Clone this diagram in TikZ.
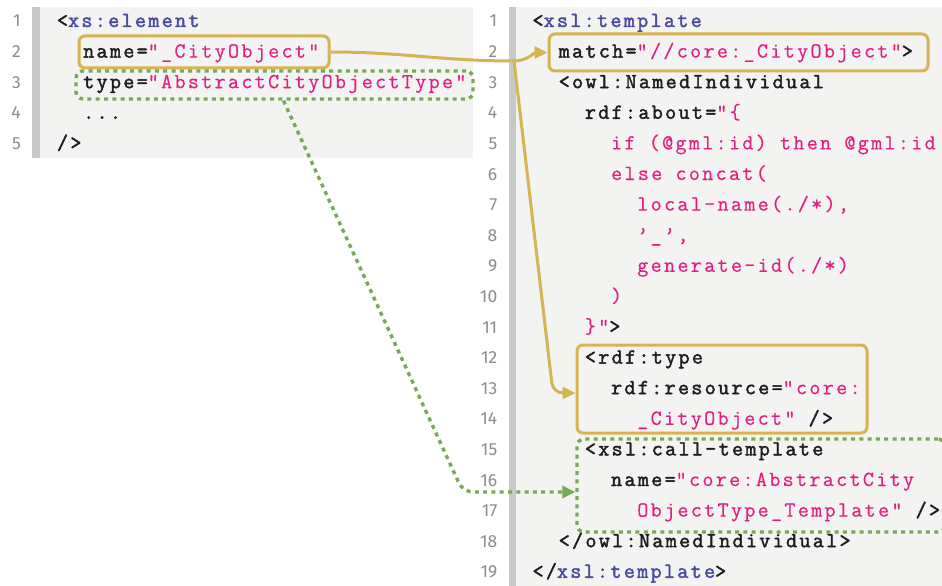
\documentclass[tikz,border=0pt]{standalone}
\usepackage{fontspec}
\usetikzlibrary{arrows.meta}
\newfontfamily\cfr{Latin Modern Mono}[LetterSpace=10.7,FakeBold=0.5]
\newfontfamily\cfbold{Latin Modern Mono}[LetterSpace=10.7,FakeBold=2]
\newfontfamily\numfont{Fira Sans}
\definecolor{ink}{RGB}{30,30,30}
\definecolor{strc}{RGB}{226,30,130}
\definecolor{tagc}{RGB}{72,76,160}
\definecolor{gold}{RGB}{214,180,82}
\definecolor{grn}{RGB}{118,170,85}
\definecolor{panel}{RGB}{243,243,241}
\definecolor{bar}{RGB}{200,200,200}
\definecolor{numgray}{RGB}{140,140,140}
\newcommand\ks[1]{{\cfbold\color{ink}#1}}
\newcommand\st[1]{{\cfr\color{strc}#1}}
\newcommand\tg[1]{{\cfbold\color{tagc}#1}}
\newcommand\s{\hspace*{13.2pt}}
\begin{document}
\begin{tikzpicture}[x=1pt,y=-1pt,
  code/.style={inner sep=0pt, anchor=base west, font=\fontsize{21.5}{25}\selectfont},
  lnum/.style={inner sep=0pt, anchor=base east, text=numgray, font=\numfont\fontsize{17.5}{20}\selectfont},
  goldbox/.style={draw=gold, line width=3pt, rounded corners=6pt, inner sep=0pt},
  greenbox/.style={draw=grn, line width=3.4pt, dash pattern=on 4pt off 4.3pt, rounded corners=7pt, inner sep=0pt},
  goldline/.style={draw=gold, line width=3pt},
  greenline/.style={draw=grn, line width=3.4pt, dash pattern=on 4pt off 4.3pt},
  tip/.style={-{Triangle[length=13pt,width=12pt]}}
]
\useasboundingbox[fill=white] (0,0) rectangle (942,586);
% panels
\fill[panel] (32,7) rectangle (473,158);
\fill[bar] (32,7) rectangle (39.5,158);
\fill[panel] (509,7) rectangle (942,586);
\fill[bar] (509,7) rectangle (515.5,586);
% line numbers
\foreach \i in {1,...,5}
  \node[lnum] (ln\i) at (21,{27+(\i-1)*30.6}) {\i};
\foreach \i in {1,...,19}
  \node[lnum] (rn\i) at (497.5,{27+(\i-1)*30.6}) {\i};
% left code
\node[code] (l1) at (56.8,27) {\ks{<}\tg{xs:element}};
\node[code] (l2) at (83,57.6) {\ks{name=}\st{"\_CityObject"}};
\node[code] (l3) at (83,88.2) {\ks{type=}\st{"AbstractCityObjectType"}};
\node[code] (l4) at (83,118.8) {\ks{...}};
\node[code] (l5) at (56.8,149.4) {\ks{/>}};
% right code
\node[code] (r1) at (532.3,27) {\ks{<}\tg{xsl:template}};
\node[code] (r2) at (558.5,57.6) {\ks{match=}\st{"//core:\_CityObject"}\ks{>}};
\node[code] (r3) at (558.5,88.2) {\ks{<owl:NamedIndividual}};
\node[code] (r4) at (584.7,118.8) {\ks{rdf:about=}\st{"\{}};
\node[code] (r5) at (610.9,149.4) {\st{if\s(@gml:id)\s then\s @gml:id}};
\node[code] (r6) at (610.9,180) {\st{else\s concat(}};
\node[code] (r7) at (637.1,210.6) {\st{local-name(./*),}};
\node[code] (r8) at (637.1,241.2) {\st{’\_’,}};
\node[code] (r9) at (637.1,271.8) {\st{generate-id(./*)}};
\node[code] (r10) at (610.9,302.4) {\st{)}};
\node[code] (r11) at (584.7,333) {\st{\}"}\ks{>}};
\node[code] (r12) at (584.7,363.6) {\ks{<rdf:type}};
\node[code] (r13) at (610.9,394.2) {\ks{rdf:resource=}\st{"core:}};
\node[code] (r14) at (637.1,424.8) {\st{\_CityObject"}\s\ks{/>}};
\node[code] (r15) at (584.7,455.4) {\ks{<xsl:call-template}};
\node[code] (r16) at (610.9,486) {\ks{name=}\st{"core:AbstractCity}};
\node[code] (r17) at (637.1,516.6) {\st{ObjectType\_Template"}\s\ks{/>}};
\node[code] (r18) at (558.5,547.2) {\ks{</owl:NamedIndividual>}};
\node[code] (r19) at (532.3,577.8) {\ks{</}\tg{xsl:template}\ks{>}};
% highlight boxes
\node[goldbox, minimum width=250pt, minimum height=32pt] (b1) at (204,52) {};
\node[greenbox, minimum width=397pt, minimum height=28pt] (g1) at (274.5,85) {};
\node[goldbox, minimum width=379pt, minimum height=37pt] (b2) at (738.5,52.5) {};
\node[goldbox, minimum width=290pt, minimum height=88pt] (b3) at (722,389) {};
\node[greenbox, minimum width=368pt, minimum height=93pt] (g2) at (761,485.5) {};
% connectors
\coordinate (j) at (514,61);
\draw[goldline] (b1.east) to[out=0,in=180] (j);
\draw[goldline, tip] (j) to[out=0,in=180] (b2.west);
\draw[goldline, tip, rounded corners=10pt] (j) -- (553,393) -- ([yshift=-4pt]b3.west);
\draw[greenline, tip, rounded corners=10pt] ([xshift=9pt]g1.south) -- (463,492) -- ([yshift=-6.5pt]g2.west);
\end{tikzpicture}
\end{document}
